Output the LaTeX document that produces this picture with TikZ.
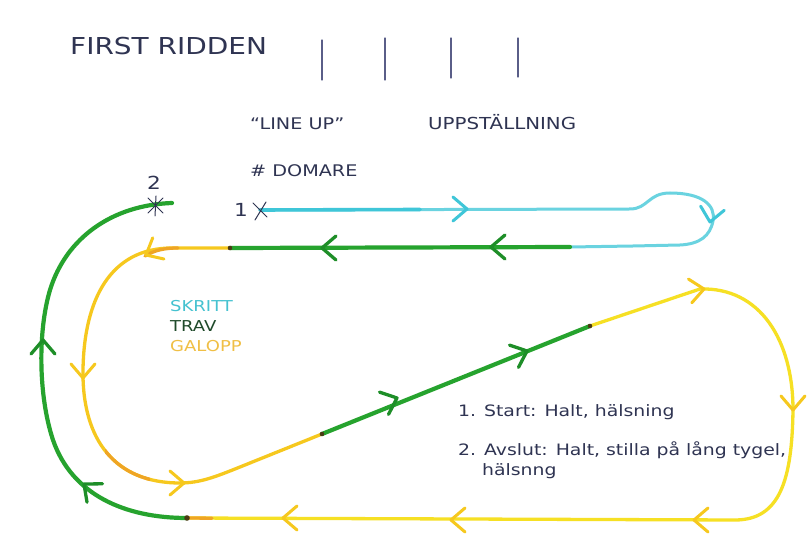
\documentclass[tikz,border=0pt]{standalone}
\usepackage{fontspec}
\setmainfont{DejaVu Sans}
\newfontfamily\vf[FakeStretch=1.2]{DejaVu Sans}
\usetikzlibrary{arrows.meta}
\definecolor{ink}{HTML}{2F3452}
\definecolor{inkline}{HTML}{5A5E88}
\definecolor{cy}{HTML}{6AD3E0}
\definecolor{cyd}{HTML}{3FC6D8}
\definecolor{gr}{HTML}{26A32E}
\definecolor{grd}{HTML}{1E8E28}
\definecolor{ye}{HTML}{F6E024}
\definecolor{go}{HTML}{F6C81E}
\definecolor{orc}{HTML}{EFA524}
\definecolor{dotc}{HTML}{4A3A14}
\definecolor{travc}{HTML}{1F4A2A}
\definecolor{galc}{HTML}{F0BF45}
\definecolor{skc}{HTML}{45C2D0}
\begin{document}
\begin{tikzpicture}[x=1pt,y=-1pt,line cap=round,line join=round,
  chev/.pic={\draw (-14,12) -- (0,0) -- (-14,-12);},
  txt/.style={anchor=base west,inner sep=0pt,font=\vf,text=ink},
  tick/.style={draw=inkline,line width=1.1pt},
  cytrack/.style={draw=cy,line width=3pt},
  grtrack/.style={draw=gr,line width=4.2pt},
  yetrack/.style={draw=ye,line width=3.3pt},
  gotrack/.style={draw=go,line width=3.3pt},
  ortrack/.style={draw=orc,line width=3.3pt},
  joint/.style={fill=dotc},
  xmark/.style={draw=ink,line width=1pt}]
\useasboundingbox (0,0) rectangle (807,545);
\fill[white] (0,0) rectangle (807,545);

% texts
\node[txt,font=\vf\fontsize{23.3}{26}\selectfont] (title) at (70,55) {FIRST RIDDEN};
\node[txt,font=\vf\fontsize{16}{19}\selectfont] (lineup) at (250,130) {“LINE UP”};
\node[txt,font=\vf\fontsize{16.5}{19}\selectfont] (upp) at (428,130) {UPPSTÄLLNING};
\node[txt,font=\vf\fontsize{16}{19}\selectfont] (dom) at (250,177) {\# DOMARE};
\node[txt,font=\vf\fontsize{15}{18}\selectfont,text=skc] (sk) at (170,312) {SKRITT};
\node[txt,font=\vf\fontsize{15}{18}\selectfont,text=travc] (tr) at (170,332) {TRAV};
\node[txt,font=\vf\fontsize{15}{18}\selectfont,text=galc] (ga) at (170,352) {GALOPP};
\node[txt,font=\vf\fontsize{15.7}{19}\selectfont] (n1) at (458,417) {1. Start: Halt, hälsning};
\node[txt,font=\vf\fontsize{15.7}{19}\selectfont] (n2) at (458,456) {2. Avslut: Halt, stilla på lång tygel,};
\node[txt,font=\vf\fontsize{15.7}{19}\selectfont] (n3) at (482,476) {hälsnng};

% ticks
\draw[tick] (322,40) -- (322,80);
\draw[tick] (385,38) -- (385,80);
\draw[tick] (451,38) -- (451,78);
\draw[tick] (518,38) -- (518,77);

% key points
\coordinate (s1) at (260,210);
\coordinate (g1) at (570,247);
\coordinate (d1) at (230,248);
\coordinate (d2) at (322,434);
\coordinate (d3) at (590,326);
\coordinate (d4) at (187,518);
\coordinate (s2) at (155,205);
\coordinate (e2) at (172,203);

% cyan (skritt)
\draw[cytrack] (s1) -- (630,209) .. controls (648,209) and (648,193) .. (670,193)
  .. controls (702,193) and (716,205) .. (713,221)
  .. controls (710,236) and (700,244) .. (680,245) -- (633,246) -- (g1);
\draw[draw=cyd,line width=3.6pt] (s1) -- (420,209.5);
% green top
\draw[grtrack] (g1) -- (d1);
% yellow left
\draw[gotrack] (d1) -- (172,248) .. controls (110,248) and (84,300) .. (83,370)
  .. controls (82,440) and (115,483) .. (180,483)
  .. controls (200,483) and (215,477) .. (240,467) -- (d2);
\draw[ortrack] (178,248) .. controls (165,248) and (155,250) .. (145,256);
\begin{scope}
  \clip (105,450) rectangle (150,490);
  \draw[ortrack] (83,370) .. controls (82,440) and (115,483) .. (180,483);
\end{scope}
% green diagonal
\draw[grtrack] (d2) -- (d3);
% yellow right
\draw[yetrack] (d3) -- (700,289) .. controls (760,287) and (793,340) .. (793,410)
  .. controls (792,480) and (780,520) .. (735,520) -- (d4);
\draw[ortrack] (d4) -- (212,518.2);
% green final
\draw[grtrack] (d4) .. controls (125,518) and (72,495) .. (53,440)
  .. controls (38,395) and (38,330) .. (50,290)
  .. controls (66,238) and (112,205) .. (e2);

% joints
\fill[joint] (d1) circle (2.3);
\fill[joint] (d2) circle (2.3);
\fill[joint] (d3) circle (2.3);
\fill[joint] (d4) circle (2.8);

% arrows
\pic[rotate=0,color=cyd,line width=3pt] at (467,209) {chev};
\pic[rotate=-100,color=cyd,line width=3pt] at (710,222) {chev};
\pic[rotate=180,color=grd,line width=3.3pt] at (491,247) {chev};
\pic[rotate=180,color=grd,line width=3.3pt] at (322,248) {chev};
\pic[rotate=208,color=go,line width=3pt] at (146,255) {chev};
\pic[rotate=-90,color=go,line width=3pt] at (83,378) {chev};
\pic[rotate=0,color=go,line width=3pt] at (184,483) {chev};
\pic[rotate=22,color=grd,line width=3.3pt] at (397,398) {chev};
\pic[rotate=22,color=grd,line width=3.3pt] at (527,351) {chev};
\pic[rotate=8,color=go,line width=3pt] at (704,289) {chev};
\pic[rotate=-90,color=go,line width=3pt] at (793,410) {chev};
\pic[rotate=180,color=go,line width=3pt] at (694,520) {chev};
\pic[rotate=180,color=go,line width=3pt] at (451,520) {chev};
\pic[rotate=180,color=go,line width=3pt] at (283,518) {chev};
\pic[rotate=140,color=grd,line width=3.3pt] at (84,484) {chev};
\pic[rotate=90,color=grd,line width=3.3pt] at (43,340) {chev};

% start / end marks
\node[txt,font=\vf\fontsize{18}{20}\selectfont] (one) at (234,217) {1};
\draw[xmark] (253,203) -- (267,217);
\draw[xmark] (266,202) -- (255,220);
\node[txt,font=\vf\fontsize{18}{20}\selectfont] (two) at (147,190) {2};
\draw[xmark] (148,198) -- (163,213);
\draw[xmark] (163,198) -- (148,213);
\draw[xmark] (156,196) -- (155,216);
\end{tikzpicture}
\end{document}
